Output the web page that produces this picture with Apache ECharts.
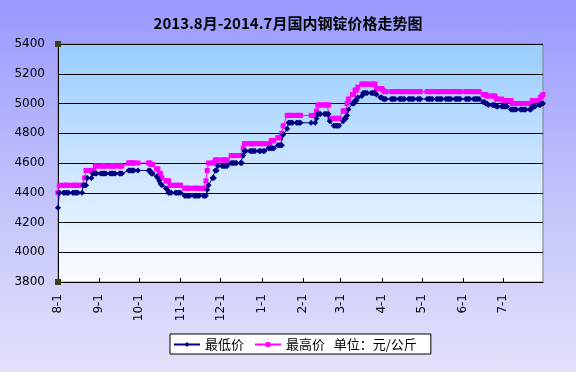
<!DOCTYPE html>
<html><head><meta charset="utf-8">
<script src="https://cdn.jsdelivr.net/npm/echarts@6/dist/echarts.min.js"></script>
<style>
html,body{margin:0;padding:0;}
#c{width:576px;height:372px;background:linear-gradient(to bottom,#9999ff 0%,#c4c4fb 55%,#e2e2fa 100%);}
</style>
</head><body><div id="c"></div>
<script>
// ---- texts ----
const chartTitle = '2013.8月-2014.7月国内钢锭价格走势图';
const lowName = '最低价';
const highName = '最高价';
const unitNote = '单位：元/公斤';

// ---- axis ----
const yMin = 3800, yMax = 5400, yStep = 200;
const firstDay = '2013-08-01', lastDay = '2014-07-31';
// non-trading weekdays (holidays)
const holidays = ['2013-09-19','2013-09-20','2013-10-01','2013-10-02','2013-10-03','2013-10-04','2013-10-07',
  '2014-01-01','2014-01-31','2014-02-03','2014-02-04','2014-02-05','2014-02-06','2014-04-07',
  '2014-05-01','2014-05-02','2014-06-02'];

// ---- daily values per month (one value per trading day) ----
const lowAug = [4300,4400,4400,4400,4400,4400,4400,4400,4400,4400,4400,4400,4400,4450,4450,4450,4500,4500,4530,4530,4530,4530];
const highAug = [4400,4450,4450,4450,4450,4450,4450,4450,4450,4450,4450,4450,4450,4450,4500,4550,4550,4550,4550,4550,4580,4580];
const lowSep = [4530,4530,4530,4530,4530,4530,4530,4530,4530,4530,4530,4530,4530,4550,4550,4550,4550,4550,4550];
const highSep = [4580,4580,4580,4580,4580,4580,4580,4580,4580,4580,4580,4580,4580,4600,4600,4600,4600,4600,4600];
const lowOct = [4550,4550,4530,4530,4510,4500,4480,4460,4450,4430,4420,4400,4400,4400,4400,4400,4400,4400];
const highOct = [4600,4600,4590,4590,4560,4560,4530,4530,4500,4480,4480,4480,4450,4450,4450,4450,4450,4450];
const lowNov = [4400,4380,4380,4380,4380,4380,4380,4380,4380,4380,4380,4380,4380,4380,4420,4450,4500,4500,4550,4550,4580];
const highNov = [4450,4430,4430,4430,4430,4430,4430,4430,4430,4430,4430,4430,4430,4480,4550,4600,4600,4600,4620,4620,4620];
const lowDec = [4580,4580,4580,4580,4580,4600,4600,4600,4600,4600,4600,4600,4650,4680,4680,4680,4680,4680,4680,4680,4680,4680];
const highDec = [4620,4620,4620,4620,4620,4650,4650,4650,4650,4650,4650,4650,4700,4730,4730,4730,4730,4730,4730,4730,4730,4730];
const lowJan = [4680,4680,4700,4700,4700,4700,4700,4720,4720,4720,4720,4790,4830,4870,4870,4870,4870,4870,4870,4870,4870];
const highJan = [4730,4730,4730,4730,4750,4750,4750,4770,4770,4770,4800,4850,4920,4920,4920,4920,4920,4920,4920,4920,4920];
const lowFeb = [4870,4870,4900,4930,4930,4930,4930,4930,4930,4930,4880,4850,4850,4850,4850,4850];
const highFeb = [4920,4920,4950,4990,4990,4990,4990,4990,4990,4990,4900,4900,4900,4900,4900,4900];
const lowMar = [4880,4900,4900,4920,4960,5000,5000,5020,5020,5040,5050,5070,5070,5070,5070,5070,5070,5070,5070,5060,5040];
const highMar = [4950,4950,4950,5000,5030,5060,5060,5090,5090,5110,5130,5130,5130,5130,5130,5130,5130,5130,5130,5100,5100];
const lowApr = [5040,5030,5030,5030,5030,5030,5030,5030,5030,5030,5030,5030,5030,5030,5030,5030,5030,5030,5030,5030,5030];
const highApr = [5100,5090,5080,5080,5080,5080,5080,5080,5080,5080,5080,5080,5080,5080,5080,5080,5080,5080,5080,5080,5080];
const lowMay = [5030,5030,5030,5030,5030,5030,5030,5030,5030,5030,5030,5030,5030,5030,5030,5030,5030,5030,5030,5030];
const highMay = [5080,5080,5080,5080,5080,5080,5080,5080,5080,5080,5080,5080,5080,5080,5080,5080,5080,5080,5080,5080];
const lowJun = [5030,5030,5030,5030,5030,5030,5030,5030,5030,5010,5010,5000,5000,4990,4990,4990,4990,4980,4980,4980];
const highJun = [5080,5080,5080,5080,5080,5080,5080,5080,5080,5060,5060,5060,5050,5050,5050,5050,5050,5030,5030,5030];
const lowJul = [4980,4980,4980,4980,4960,4960,4960,4960,4960,4960,4960,4960,4960,4960,4960,4960,4980,4980,4980,4990,4990,5000,5000];
const highJul = [5020,5020,5020,5020,5020,5000,5000,5000,5000,5000,5000,5000,5000,5000,5000,5000,5020,5020,5020,5020,5040,5050,5060];

const lowMonths = [lowAug,lowSep,lowOct,lowNov,lowDec,lowJan,lowFeb,lowMar,lowApr,lowMay,lowJun,lowJul];
const highMonths = [highAug,highSep,highOct,highNov,highDec,highJan,highFeb,highMar,highApr,highMay,highJun,highJul];

// ---- build calendar categories and daily series (null on non-trading days) ----
function pad(n){return n<10?'0'+n:''+n;}
const categories = [], dayOfMonth = [], lowDaily = [], highDaily = [];
(function(){
  let d = new Date(firstDay + 'T00:00:00Z');
  const end = new Date(lastDay + 'T00:00:00Z');
  let monthIdx = -1, k = 0, curMonth = -1;
  while (d <= end) {
    const m = d.getUTCMonth(), day = d.getUTCDate(), wd = d.getUTCDay();
    if (m !== curMonth) { curMonth = m; monthIdx++; k = 0; }
    const iso = d.getUTCFullYear() + '-' + pad(m+1) + '-' + pad(day);
    categories.push((m+1) + '-' + day);
    dayOfMonth.push(day);
    const trading = wd !== 0 && wd !== 6 && holidays.indexOf(iso) < 0;
    if (trading) {
      const lv = lowMonths[monthIdx][k], hv = highMonths[monthIdx][k];
      lowDaily.push(lv === undefined ? null : lv);
      highDaily.push(hv === undefined ? null : hv);
      k++;
    } else { lowDaily.push(null); highDaily.push(null); }
    d = new Date(d.getTime() + 86400000);
  }
})();

const chart = echarts.init(document.getElementById('c'), null, {renderer:'canvas'});
const monthStart = (i) => dayOfMonth[i] === 1;
const cjk = '"Noto Sans CJK SC", "Noto Sans", sans-serif';

chart.setOption({
  animation: false,
  backgroundColor: 'transparent',
  title: {
    text: chartTitle, left: 'center', top: 11,
    textStyle: {fontSize: 15, fontWeight: 'bold', color: '#000', fontFamily: cjk}
  },
  grid: {
    left: 58, right: 33, top: 44, bottom: 90, show: true,
    borderColor: '#808080', borderWidth: 1,
    backgroundColor: new echarts.graphic.LinearGradient(0,0,0,1,[{offset:0,color:'#99ccff'},{offset:1,color:'#fbfdff'}])
  },
  legend: {
    left: 170, top: 334,
    data: [lowName, highName],
    formatter: (n) => n === highName ? n + '   ' + unitNote : n,
    backgroundColor: '#fff', borderColor: '#000', borderWidth: 1, borderRadius: 0,
    padding: [4, 14, 3, 3], itemWidth: 26, itemHeight: 6, itemGap: 10,
    textStyle: {fontSize: 13, color: '#000', fontFamily: cjk}
  },
  xAxis: {
    type: 'category', data: categories, boundaryGap: false,
    axisLine: {lineStyle: {color: '#000', width: 1}},
    axisTick: {inside: true, length: 4, interval: monthStart, lineStyle: {color: '#000'}},
    axisLabel: {interval: monthStart, rotate: 90, margin: 12, fontSize: 12, color: '#000', fontFamily: 'DejaVu Sans'},
    splitLine: {show: false}
  },
  yAxis: {
    type: 'value', min: yMin, max: yMax, interval: yStep,
    axisLine: {show: true, lineStyle: {color: '#000', width: 1}},
    axisTick: {show: false},
    axisLabel: {fontSize: 12, color: '#000', margin: 13, fontFamily: 'DejaVu Sans', formatter: (v) => String(v)},
    splitLine: {lineStyle: {color: '#000', width: 1}}
  },
  series: [
    {
      name: highName, type: 'line', data: highDaily, connectNulls: true,
      symbol: 'rect', symbolSize: 5, showAllSymbol: true,
      itemStyle: {color: '#ff00ff'}, lineStyle: {color: '#ff00ff', width: 1}, z: 2
    },
    {
      name: lowName, type: 'line', data: lowDaily, connectNulls: true,
      symbol: 'diamond', symbolSize: 6, showAllSymbol: true,
      itemStyle: {color: '#000080'}, lineStyle: {color: '#000080', width: 1}, z: 3
    }
  ]
});

// plot-area corner handles
const pTop = chart.convertToPixel({gridIndex: 0}, [0, yMax]);
const pBot = chart.convertToPixel({gridIndex: 0}, [0, yMin]);
chart.setOption({
  graphic: [pTop, pBot].map(p => ({
    type: 'rect', shape: {x: p[0]-3, y: p[1]-3, width: 6, height: 6},
    style: {fill: '#3f3f10', stroke: null}, z: 100
  }))
});
</script>
</body></html>
